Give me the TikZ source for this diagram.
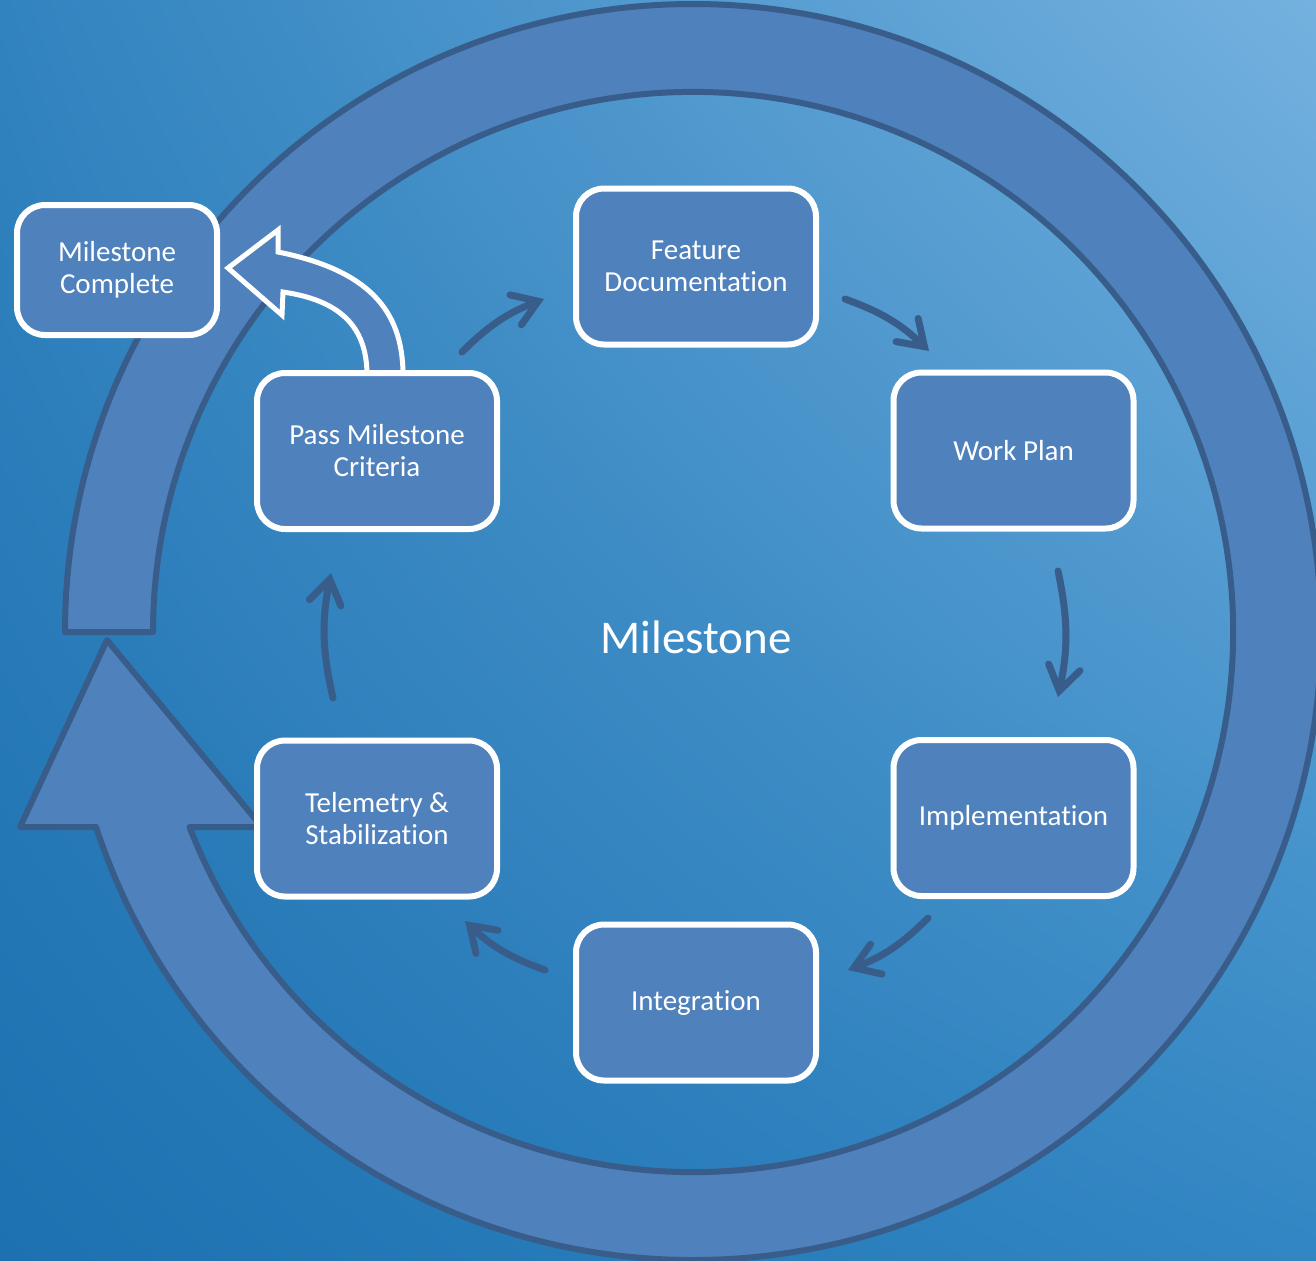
\documentclass[tikz,border=0pt]{standalone}
\usepackage{fontspec}
\setmainfont[Ligatures=NoCommon]{Carlito}
\usetikzlibrary{arrows.meta,shadings}
\definecolor{bgtl}{HTML}{3183BF}
\definecolor{bgtr}{HTML}{74B1DF}
\definecolor{bgbl}{HTML}{1D71B0}
\definecolor{bgbr}{HTML}{3186C3}
\definecolor{boxblue}{HTML}{4F81BD}
\definecolor{ringedge}{HTML}{385D8A}
\begin{document}
\begin{tikzpicture}[x=0.5pt,y=0.5pt,
    stage/.style={draw=white, line width=3pt, fill=boxblue, rounded corners=14pt,
        minimum width=120pt, minimum height=78pt, align=center,
        text=white, font=\fontsize{14.5}{16}\selectfont},
    flow/.style={draw=ringedge, line width=3.5pt, line cap=round,
        -{Straight Barb[length=12pt,width=16pt,line cap=round]}}]
\clip (0,0) rectangle (1316,-1260);
\shade[upper left=bgtl, upper right=bgtr, lower left=bgbl, lower right=bgbr]
    (0,0) rectangle (1316,-1260);
\coordinate (hub) at (693,-632);
\filldraw[fill=boxblue, draw=ringedge, line width=3pt, line join=round]
    (65,-632) arc[start angle=180, end angle=-161.91, radius=628]
    -- (20,-827) -- (107,-640) -- (262,-827) -- (189.5,-827)
    arc[start angle=-158.83, end angle=180, radius=540] -- cycle;

\node[stage, minimum width=100pt, minimum height=65pt] (done) at (117,-270) {Milestone\\Complete};
\begin{scope}[shift={(done.east)}]
\filldraw[fill=boxblue, draw=white, line width=2.5pt]
    (147,-108) -- (147,-105) .. controls (147,-55) and (118,-30) .. (63,-22)
    -- (62,-45) -- (8,2) -- (58,40) -- (58,18)
    .. controls (148,0) and (183,-40) .. (183,-105) -- (183,-108);
\end{scope}
\node[stage] (feat) at (696,-266.5) {Feature\\Documentation};
\node[stage] (plan) at (1013.5,-450.5) {Work Plan};
\node[stage] (impl) at (1013.5,-818) {Implementation};
\node[stage] (integ) at (696,-1002.5) {Integration};
\node[stage] (tele) at (377,-818.5) {Telemetry \&\\Stabilization};
\node[stage] (pass) at (377,-451) {Pass Milestone\\Criteria};
\node[text=white, font=\fontsize{23.5}{28}\selectfont] (title) at (696,-637) {Milestone};

\draw[flow] ([shift={(85,99)}]pass.center) to[bend left=12] ([shift={(-152,-32.5)}]feat.center);
\draw[flow] ([shift={(149,-32.5)}]feat.center) to[bend left=12] ([shift={(-84.5,99.5)}]plan.center);
\draw[flow] ([shift={(44.5,-120.5)}]plan.center) to[bend left=12] ([shift={(44.5,121)}]impl.center);
\draw[flow] ([shift={(-85.5,-100)}]impl.center) to[bend left=12] ([shift={(152,32.5)}]integ.center);
\draw[flow] ([shift={(-151,32.5)}]integ.center) to[bend left=12] ([shift={(88,-102.5)}]tele.center);
\draw[flow] ([shift={(-44,120.5)}]tele.center) to[bend left=12] ([shift={(-46,-122)}]pass.center);
\end{tikzpicture}
\end{document}
